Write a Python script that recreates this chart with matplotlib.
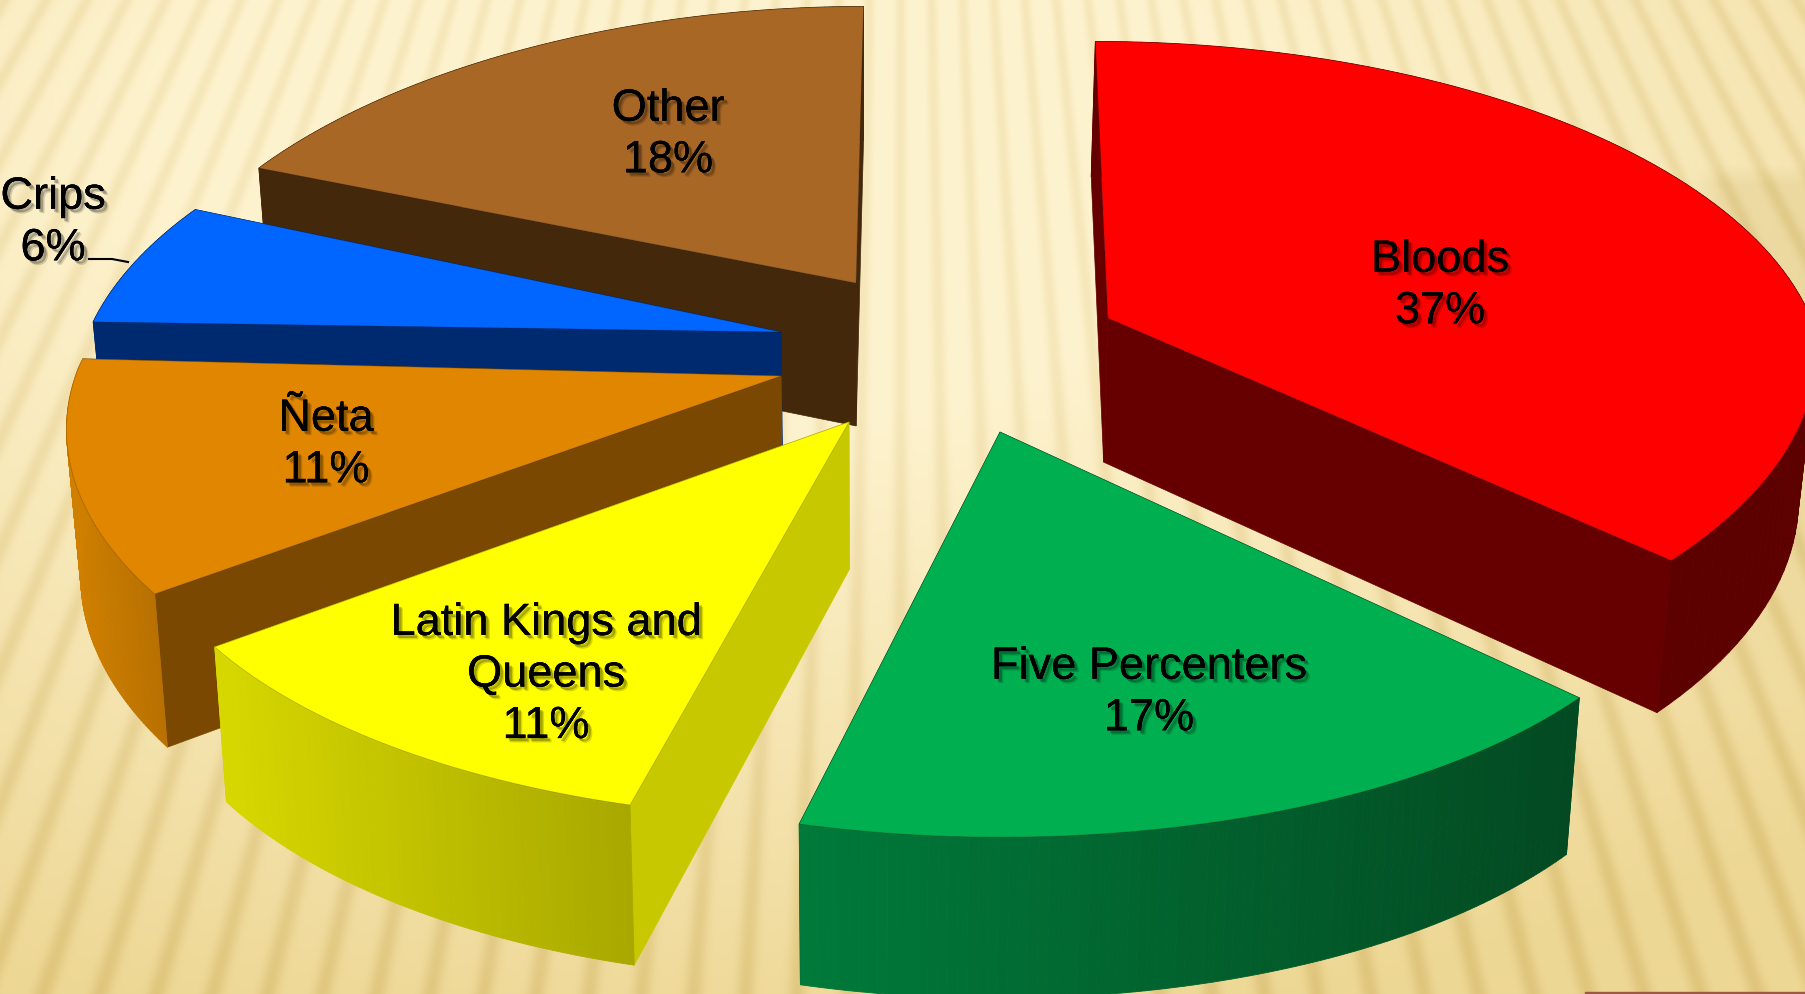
import numpy as np
import matplotlib
matplotlib.use("Agg")
import matplotlib.pyplot as plt
import matplotlib.patheffects as pe
from matplotlib.collections import PolyCollection
from matplotlib.colors import to_rgb
from matplotlib.patches import Polygon, Rectangle

# data, clockwise from 12 o'clock
labels = ["Bloods", "Five Percenters", "Latin Kings and\nQueens", "Ñeta", "Crips", "Other"]
percents = [37, 17, 11, 11, 6, 18]
# unrounded shares
shares = [36.6, 17.3, 10.7, 10.9, 6.1, 18.4]

# colours of each slice
top_colors = ["#ff0000", "#00b050", "#ffff00", "#e08600", "#0066ff", "#a96726"]
cut_colors = ["#660000", "#034a22", "#c8c800", "#7a4800", "#002a70", "#43280c"]
wall_left = ["#640000", "#007a3a", "#d8d800", "#d08000", "#002a70", "#43280c"]
wall_right = ["#5c0000", "#034a22", "#a8a800", "#b87000", "#002a70", "#43280c"]

# where each exploded slice has its tip, in picture pixels
tip_x = [1108, 1000, 849, 781, 781, 856]
tip_y = [319, 433, 423, 377, 333, 284]

# small per slice corrections of the outline
scale_x = [1, 0.973, 1, 1, 0.985, 1]
front_x = [48, 0, 13, 0, 0, 0]
front_y = [-6, 8, 0, 0, 0, 0]
side_y = [0, 25, 4, -7, 0, 9]

# label centres
label_x = [1440, 1149, 546, 326, 53, 668]
label_y = [287, 694, 676, 446, 224, 136]

# back to front
draw_order = [5, 4, 3, 2, 0, 1]

# projection of the pie plane
RX = 703
RY = 326
K = 0.179
SHEAR = 0.08


def arc_points(i, a0, a1, n=90):
    th = np.radians(np.linspace(a0, a1, n))
    s, c = np.sin(th), np.cos(th)
    w = 1 + K * c
    x = tip_x[i] + scale_x[i] * RX * s / w + (950 - tip_x[i]) * SHEAR * np.maximum(c, 0) + front_x[i] * np.minimum(c, 0)
    y = tip_y[i] - RY * c / w + side_y[i] * s ** 2 - front_y[i] * np.minimum(c, 0)
    return x, y


def drop(x, y):
    # bottom edge of the pie, lines run slightly together downwards
    return x + (865 - x) * 0.018, y + 143 + (y - 285) * 0.033


def background():
    yy, xx = np.mgrid[0:995, 0:1806]
    ang = np.arctan2(xx - 900, yy + 1500)
    wave = 0.5 + 0.5 * np.cos(2 * np.pi * ang / 0.0207)
    r = np.sqrt(((xx - 700) / 1500) ** 2 + ((yy - 150) / 800) ** 2)
    t = np.clip((r - 0.35) * 1.3, 0, 1)[..., None]
    light = np.array([254, 243, 207]) * (1 - t) + np.array([238, 216, 150]) * t
    dark = np.array([246, 231, 186]) * (1 - t) + np.array([224, 198, 125]) * t
    s = (wave ** 3)[..., None]
    img = light * (1 - s) + dark * s
    # darker band in the top right corner
    band = np.clip((xx - 1690) / 30, 0, 1) * np.clip((yy - 165) / 20, 0, 1) * np.clip((700 - yy) / 300, 0, 1)
    img = img - band[..., None] * np.array([10, 12, 18])
    return img / 255


fig = plt.figure(figsize=(18.06, 9.95), dpi=100)
ax = fig.add_axes([0, 0, 1, 1])
ax.imshow(background(), extent=(0, 1806, 995, 0), aspect="auto", zorder=0, interpolation="bilinear")
ax.set_xlim(0, 1806)
ax.set_ylim(995, 0)
ax.axis("off")

# corner of the next slide element
ax.add_patch(Rectangle((1585, 993), 221, 4, color="#9c5a45", zorder=1))

edges = np.cumsum([0] + shares) / sum(shares) * 360

z = 2
for i in draw_order:
    a0, a1 = edges[i], edges[i + 1]
    ax_, ay_ = arc_points(i, a0, a1)
    bx, by = drop(ax_, ay_)
    tx, ty = tip_x[i], tip_y[i]
    dx, dy = drop(np.array(tx, float), np.array(ty, float))

    # the two cut faces
    for k in (0, -1):
        pts = [(tx, ty), (ax_[k], ay_[k]), (bx[k], by[k]), (float(dx), float(dy))]
        ax.add_patch(Polygon(pts, closed=True, facecolor=cut_colors[i], edgecolor=cut_colors[i], lw=0.5, zorder=z))
        z += 1

    # outer wall, coloured left to right
    quads = []
    cols = []
    c0, c1 = np.array(to_rgb(wall_left[i])), np.array(to_rgb(wall_right[i]))
    for j in range(len(ax_) - 1):
        quads.append([(ax_[j], ay_[j]), (ax_[j + 1], ay_[j + 1]), (bx[j + 1], by[j + 1]), (bx[j], by[j])])
        f = (ax_[j] - ax_.min()) / (ax_.max() - ax_.min())
        cols.append(c0 * (1 - f) + c1 * f)
    ax.add_collection(PolyCollection(quads, facecolors=cols, edgecolors=cols, linewidths=0.6, zorder=z))
    z += 1

    # top
    pts = np.column_stack([np.r_[tx, ax_], np.r_[ty, ay_]])
    ax.add_patch(Polygon(pts, closed=True, facecolor=top_colors[i], edgecolor="#00000030", lw=0.6, zorder=z))
    z += 1

# leader line of Crips
ax.plot([89, 112, 128], [260, 260, 263], color="black", lw=1.5, zorder=z)

shadow = [
    pe.withSimplePatchShadow(offset=(3.2, -3.2), shadow_rgbFace="black", alpha=0.15),
    pe.withSimplePatchShadow(offset=(2.2, -2.2), shadow_rgbFace="black", alpha=0.25),
    pe.Normal(),
]
for i in range(len(labels)):
    txt = f"{labels[i]}\n{percents[i]}%"
    ax.text(label_x[i], label_y[i], txt, ha="center", va="center", fontsize=32.5, color="black",
            family="Liberation Sans", linespacing=1.33, zorder=z + 1, path_effects=shadow)

fig.savefig("out.png", dpi=100)
